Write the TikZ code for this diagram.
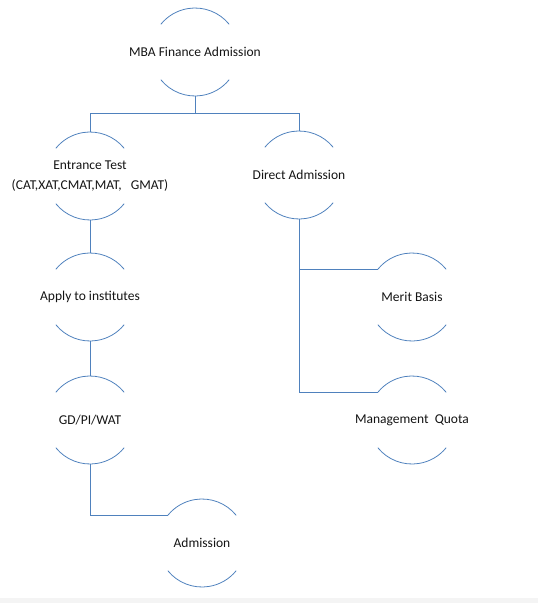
\documentclass[tikz,border=0pt]{standalone}
\usepackage{fontspec}
\setmainfont{Carlito}
\definecolor{lineblue}{RGB}{79,129,189}
\definecolor{band}{RGB}{244,244,244}
\definecolor{txtcol}{RGB}{20,20,20}
\begin{document}
\begin{tikzpicture}[x=1pt,y=-1pt,
  ring/.style={circle,minimum size=88pt,inner sep=0pt,outer sep=0pt},
  lbl/.style={text=txtcol,font=\fontsize{13.5}{20}\selectfont,align=center,inner sep=0pt},
  conn/.style={draw=lineblue,line width=0.8pt},
  arcline/.style={draw=lineblue,line width=0.8pt}]
\useasboundingbox (0,0) rectangle (538,603);
\fill[band] (0,597.5) rectangle (538,603);

\node[ring,label={[lbl]center:MBA Finance Admission}] (mba) at (195,52) {};
\node[ring,label={[lbl]center:Entrance Test\\(CAT,XAT,CMAT,MAT,\ \ \ GMAT)}] (ent) at (90,176) {};
\node[ring,label={[lbl]center:Direct Admission}] (dir) at (299,175) {};
\node[ring,label={[lbl]center:Apply to institutes}] (app) at (90,297) {};
\node[ring,label={[lbl]center:GD/PI/WAT}] (gd) at (90,420) {};
\node[ring,label={[lbl]center:Admission}] (adm) at (202,543) {};
\node[ring,label={[lbl]center:Merit Basis}] (mer) at (412,297) {};
\node[ring,label={[lbl]center:Management\ \ Quota}] (mgt) at (412,420) {};

\foreach \n in {mba,ent,dir,app,gd,adm,mer,mgt}{
  \draw[arcline] (\n.39) arc[start angle=39,end angle=141,radius=44pt];
  \draw[arcline] (\n.219) arc[start angle=219,end angle=321,radius=44pt];
}

\coordinate (j) at (195,113);
\draw[conn] (mba.south) -- (j) -| (ent.north);
\draw[conn] (j) -| (dir.north);
\draw[conn] (ent.south) -- (app.north);
\draw[conn] (app.south) -- (gd.north);
\draw[conn] (gd.south) |- (adm.141);
\draw[conn] (dir.south) |- (mer.141);
\draw[conn] (dir.south) |- (mgt.141);
\end{tikzpicture}
\end{document}
